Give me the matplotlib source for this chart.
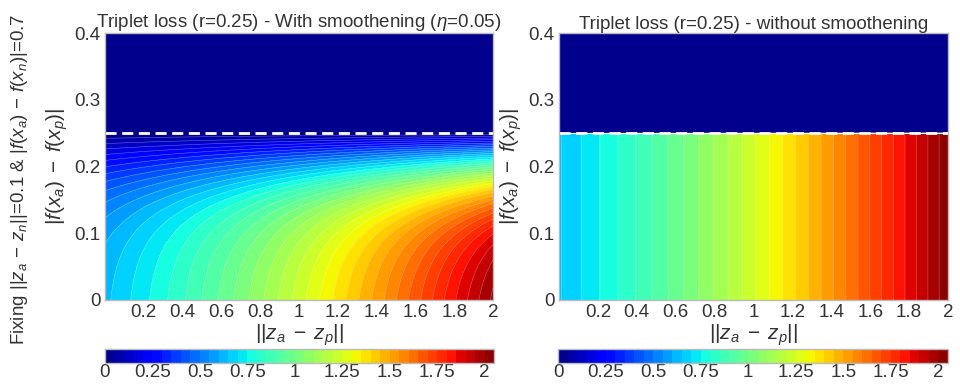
import numpy as np
import matplotlib
matplotlib.use("Agg")
import matplotlib.pyplot as plt
from matplotlib.ticker import FuncFormatter

plt.rcParams['font.family'] = ['Liberation Sans', 'DejaVu Sans']
plt.rcParams['mathtext.fontset'] = 'custom'
plt.rcParams['mathtext.rm'] = 'Liberation Sans'
plt.rcParams['mathtext.it'] = 'Liberation Sans:italic'
plt.rcParams['font.size'] = 13

# --- setup values (read from the titles / side label) ---
r = 0.25          # radius on |f(x_a) - f(x_p)|
eta = 0.05        # smoothening
zn = 0.1          # fixed ||z_a - z_n||
fn = 0.7          # fixed |f(x_a) - f(x_n)| (> r, so the negative is valid)

x_lim = [0, 2]
y_lim = [0, 0.4]
x_ticks = [0.2, 0.4, 0.6, 0.8, 1, 1.2, 1.4, 1.6, 1.8, 2]
y_ticks = [0, 0.1, 0.2, 0.3, 0.4]
cb_ticks = [0, 0.25, 0.5, 0.75, 1, 1.25, 1.5, 1.75, 2]
levels = np.arange(0, 2.051, 0.05)

titles = ["Triplet loss (r=0.25) - With smoothening ($\\eta$=0.05)",
          "Triplet loss (r=0.25) - without smoothening"]

txt = '#333333'
fs = 13.5

# --- loss surfaces ---
xs = np.linspace(x_lim[0], x_lim[1], 401)
ys = np.linspace(y_lim[0], y_lim[1], 801)
X, Y = np.meshgrid(xs, ys)

base = np.log1p(np.exp(X - zn))      # soft-margin triplet term
hard = np.where(Y < r, base, 0.0)
smooth = np.where(Y < r, base * np.tanh((r - Y) / (2 * eta)), 0.0)

fig = plt.figure(figsize=(9.6, 3.85), dpi=100)

ax_pos = [[105 / 960, 1 - 300 / 385, 388 / 960, 267 / 385],
          [559 / 960, 1 - 300 / 385, 389 / 960, 267 / 385]]
cb_pos = [[105 / 960, 1 - 363 / 385, 389 / 960, 14 / 385],
          [558 / 960, 1 - 363 / 385, 390 / 960, 14 / 385]]

fmt = FuncFormatter(lambda v, p: '%g' % v)

for i, Z in enumerate([smooth, hard]):
    ax = fig.add_axes(ax_pos[i])
    cs = ax.contourf(X, Y, Z, levels=levels, cmap='jet')
    ax.contour(X, Y, Z, levels=levels[1:], colors='white', linewidths=0.4, alpha=0.4)
    ax.axhline(r, color='white', lw=2, ls=(0, (4, 2)))
    ax.set_xlim(x_lim)
    ax.set_ylim(y_lim)
    ax.set_xticks(x_ticks)
    ax.set_yticks(y_ticks)
    ax.xaxis.set_major_formatter(fmt)
    ax.yaxis.set_major_formatter(fmt)
    ax.tick_params(length=0, labelsize=fs, colors=txt, pad=3)
    for s in ax.spines.values():
        s.set_color('#bbbbbb')
        s.set_linewidth(1)
    ax.set_title(titles[i], fontsize=fs, color=txt, pad=3)
    ax.set_xlabel(r'$||z_a\;-\;z_p||$', fontsize=15, color=txt, labelpad=1)
    ax.set_ylabel(r'$|f(x_a)\;-\;f(x_p)|$', fontsize=15, color=txt, labelpad=3)

    cax = fig.add_axes(cb_pos[i])
    cb = fig.colorbar(cs, cax=cax, orientation='horizontal', ticks=cb_ticks)
    cb.ax.xaxis.set_major_formatter(fmt)
    cb.ax.tick_params(length=0, labelsize=fs, colors=txt, pad=1)
    cb.outline.set_edgecolor('#bbbbbb')
    cb.outline.set_linewidth(1)

fig.text(0.02, 0.535,
         r'Fixing $||z_a\,-\,z_n||$=0.1 & $|f(x_a)\,-\,f(x_n)|$=0.7',
         rotation=90, ha='center', va='center', fontsize=13.5, color=txt)

fig.savefig('out.png', dpi=100)
